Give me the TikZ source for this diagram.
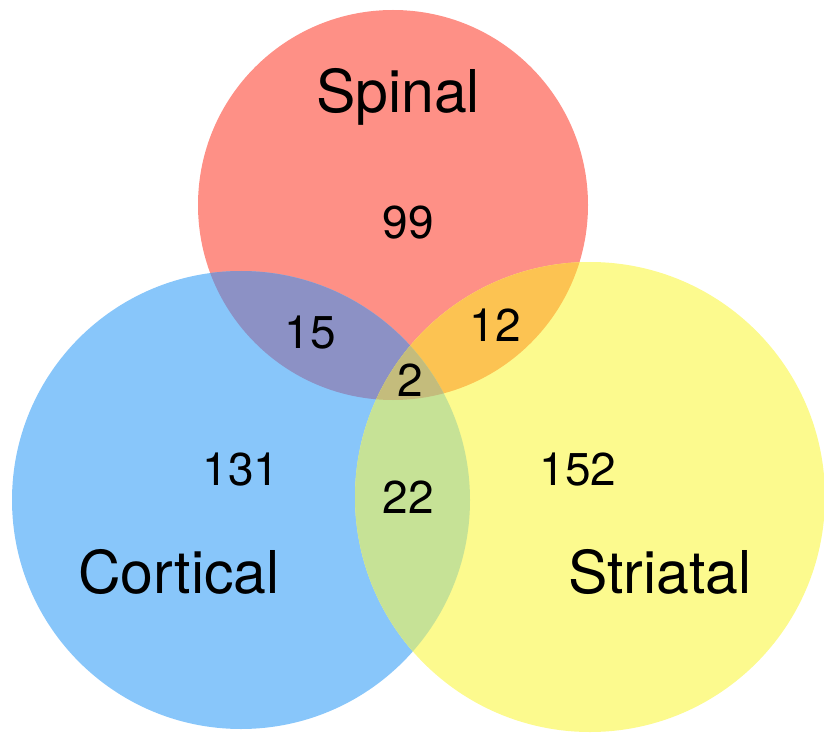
\documentclass[tikz,border=0pt]{standalone}
\usepackage{fontspec}
\setmainfont{TeX Gyre Heros}
\definecolor{cred}{HTML}{FE9086}
\definecolor{cblue}{HTML}{88C6FA}
\definecolor{cyel}{HTML}{FCFA8E}
\definecolor{cpur}{HTML}{8C91C5}
\definecolor{corg}{HTML}{FCC352}
\definecolor{cgrn}{HTML}{C6E296}
\definecolor{cmid}{HTML}{C4BC7C}
\begin{document}
\begin{tikzpicture}[x=1pt,y=-1pt,
  biglabel/.style={font=\fontsize{59}{60}\selectfont, inner sep=0pt},
  numlabel/.style={font=\fontsize{46}{47}\selectfont, inner sep=0pt}]
\useasboundingbox (0,0) rectangle (824,735);
\def\spinal{(393,205) circle (195)}
\def\cortical{(241,500) circle (229)}
\def\striatal{(590,497) circle (235)}
\fill[cred] \spinal;
\fill[cblue] \cortical;
\fill[cyel] \striatal;
\begin{scope}
  \clip \spinal;
  \fill[cpur] \cortical;
  \fill[corg] \striatal;
\end{scope}
\begin{scope}
  \clip \cortical;
  \fill[cgrn] \striatal;
  \clip \striatal;
  \fill[cmid] \spinal;
\end{scope}
\node[biglabel] (spinal) at (398,97) {Spinal};
\node[biglabel] (cortical) at (179,572) {Cortical};
\node[biglabel] (striatal) at (660,572) {Striatal};
\node[numlabel] (n99) at (408,223) {99};
\node[numlabel] (n15) at (310,333) {15};
\node[numlabel] (n12) at (495,325) {12};
\node[numlabel] (n2) at (410,380) {2};
\node[numlabel] (n131) at (241,470) {131};
\node[numlabel] (n22) at (408,497) {22};
\node[numlabel] (n152) at (578,470) {152};
\end{tikzpicture}
\end{document}
